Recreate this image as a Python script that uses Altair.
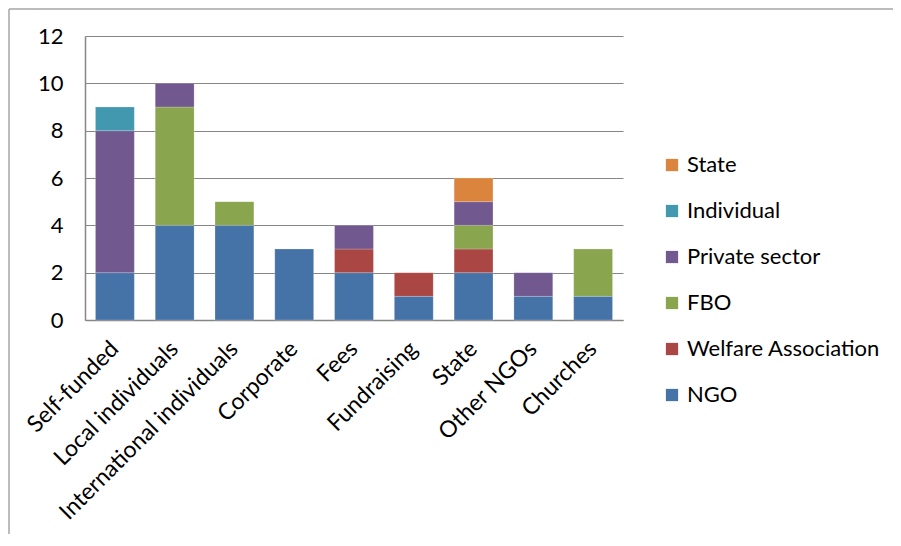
import altair as alt
import pandas as pd

categories = ["Self-funded", "Local individuals", "International individuals", "Corporate",
              "Fees", "Fundraising", "State", "Other NGOs", "Churches"]
series = ["NGO", "Welfare Association", "FBO", "Private sector", "Individual", "State"]
colors = ["#4572A7", "#AA4643", "#89A54E", "#71588F", "#4198AF", "#DB843D"]

ngo = [2, 4, 4, 3, 2, 1, 2, 1, 1]
welfare = [0, 0, 0, 0, 1, 1, 1, 0, 0]
fbo = [0, 5, 1, 0, 0, 0, 1, 0, 2]
private = [6, 1, 0, 0, 1, 0, 1, 1, 0]
individual = [1, 0, 0, 0, 0, 0, 0, 0, 0]
state = [0, 0, 0, 0, 0, 0, 1, 0, 0]

values = [ngo, welfare, fbo, private, individual, state]
rows = []
for si, (s, vals) in enumerate(zip(series, values)):
    for c, v in zip(categories, vals):
        if v > 0:
            rows.append({"category": c, "series": s, "value": v, "order": si})
df = pd.DataFrame(rows)

W, H = 538, 284
FONT = "Lato"
FS = 22

bars = alt.Chart(df).mark_bar(stroke="#ffffff", strokeOpacity=0.35, strokeWidth=0.6).encode(
    x=alt.X("category:N", sort=categories, title=None,
            scale=alt.Scale(paddingInner=0.35, paddingOuter=0.175),
            axis=alt.Axis(labelAngle=-45, labelAlign="right", labelBaseline="middle",
                          labelFontSize=23, labelFont=FONT, labelColor="#000000",
                          labelPadding=25, ticks=False, domainColor="#868686",
                          domainWidth=1.5, grid=False, labelOverlap=False, labelLimit=0)),
    y=alt.Y("value:Q", title=None, stack="zero",
            scale=alt.Scale(domain=[0, 12], nice=False),
            axis=alt.Axis(values=[0, 2, 4, 6, 8, 10, 12], labelFontSize=FS, labelFont=FONT,
                          labelColor="#000000", labelPadding=22, ticks=False,
                          domainColor="#868686", domainWidth=1.5,
                          grid=True, gridColor="#868686", gridWidth=1.2)),
    color=alt.Color("series:N", sort=series,
                    scale=alt.Scale(domain=series, range=colors),
                    legend=alt.Legend(title=None, orient="none", legendX=576, legendY=118,
                                      values=series[::-1],
                                      symbolType="square", symbolSize=150,
                                      symbolStrokeWidth=0, labelFontSize=FS, labelFont=FONT,
                                      labelColor="#000000", rowPadding=24, labelOffset=4,
                                      labelLimit=0)),
    order=alt.Order("order:Q", sort="ascending"),
)

frame = pd.DataFrame({"a": [0]})
top_line = alt.Chart(frame).mark_rule(stroke="#A6A6A6", strokeWidth=1.5).encode(
    x=alt.value(-76), x2=alt.value(900), y=alt.value(-27))
left_line = alt.Chart(frame).mark_rule(stroke="#A6A6A6", strokeWidth=1.5).encode(
    x=alt.value(-76), y=alt.value(-27), y2=alt.value(600))

chart = alt.layer(top_line, left_line, bars).properties(
    width=W, height=H,
    autosize=alt.AutoSizeParams(type="none"),
    padding={"left": 77, "top": 28, "right": 270, "bottom": 214},
).configure_view(stroke=None)

chart.save("out.html", embed_options={"renderer": "svg", "actions": False})
